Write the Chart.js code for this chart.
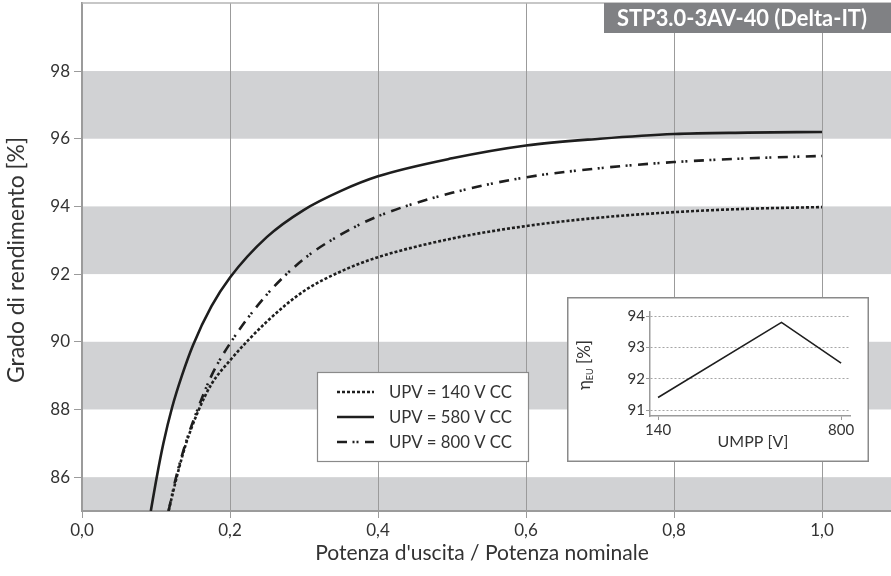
<!DOCTYPE html>
<html>
<head>
<meta charset="utf-8">
<script src="https://cdn.jsdelivr.net/npm/chart.js@4.4.1/dist/chart.umd.min.js"></script>
<style>
  body { margin: 0; background: #fff; }
  #wrap { position: relative; width: 891px; height: 576px; }
  #mainChart { position: absolute; left: 0; top: 0; }
  #insetChart { position: absolute; left: 567px; top: 297px; }
</style>
</head>
<body>
<div id="wrap">
  <canvas id="mainChart" width="891" height="576"></canvas>
  <canvas id="insetChart" width="302" height="165"></canvas>
</div>
<script>
// main chart data
const ratio140 = [0.117, 0.128, 0.14, 0.157, 0.175, 0.2, 0.25, 0.3, 0.35, 0.4, 0.5, 0.6, 0.7, 0.8, 0.9, 1.0];
const eff140 = [85, 86, 86.95, 87.95, 88.75, 89.45, 90.6, 91.5, 92.08, 92.5, 93.05, 93.42, 93.67, 93.83, 93.93, 93.98];
const ratio580 = [0.093, 0.101, 0.11, 0.122, 0.135, 0.15, 0.175, 0.2, 0.25, 0.3, 0.35, 0.4, 0.5, 0.6, 0.7, 0.8, 0.9, 1.0];
const eff580 = [85, 86, 87, 88.08, 89.0, 89.9, 91.05, 91.9, 93.1, 93.9, 94.46, 94.89, 95.42, 95.8, 96.0, 96.14, 96.18, 96.2];
const ratio800 = [0.117, 0.126, 0.14, 0.157, 0.175, 0.2, 0.25, 0.3, 0.35, 0.4, 0.5, 0.6, 0.7, 0.8, 0.9, 1.0];
const eff800 = [85, 85.9, 87.0, 88.05, 89.0, 89.95, 91.4, 92.45, 93.17, 93.71, 94.4, 94.86, 95.13, 95.31, 95.42, 95.49];
const seriesLabels = ["UPV = 140 V CC", "UPV = 580 V CC", "UPV = 800 V CC"];
const xTicks = [0, 0.2, 0.4, 0.6, 0.8, 1.0];
const yTicks = [86, 88, 90, 92, 94, 96, 98];
const bandRanges = [[84, 86], [88, 90], [92, 94], [96, 98]];

// inset data
const umpp = [140, 585, 800];
const etaEu = [91.4, 93.8, 92.5];
const insetXTicks = [140, 800];
const insetYTicks = [91, 92, 93, 94];

const FONT = "Lato, 'DejaVu Sans', sans-serif";
const TXT = "#333333";
const GRID = "#9b9b9b";

const toPts = (xs, ys) => xs.map((x, i) => ({ x: x, y: ys[i] }));

// pick a font size so that text spans the given width
function fitFont(ctx, text, weight, width) {
    ctx.font = weight + " 20px " + FONT;
    const size = 20 * width / ctx.measureText(text).width;
    return weight + " " + size.toFixed(2) + "px " + FONT;
}

// no extra label padding, so the plot area lands where it should
function noPad(s) {
    s.paddingTop = 0; s.paddingBottom = 0;
    s.paddingLeft = 0; s.paddingRight = 0;
}

const mainDecor = {
    id: "mainDecor",
    beforeDraw(chart) {
        const { ctx, chartArea: a, scales: { y } } = chart;
        ctx.save();
        ctx.fillStyle = "#d1d2d4";
        bandRanges.forEach(b => {
            const y1 = Math.max(y.getPixelForValue(b[1]), a.top);
            const y2 = Math.min(y.getPixelForValue(b[0]), a.bottom);
            ctx.fillRect(a.left, y1, a.right - a.left, y2 - y1);
        });
        ctx.restore();
    },
    afterDraw(chart) {
        const { ctx, chartArea: a } = chart;
        ctx.save();
        // top border
        ctx.strokeStyle = "#b5b5b5";
        ctx.lineWidth = 1.5;
        ctx.beginPath();
        ctx.moveTo(a.left, a.top);
        ctx.lineTo(a.right, a.top);
        ctx.stroke();

        // title box
        const title = "STP3.0-3AV-40 (Delta-IT)";
        ctx.font = fitFont(ctx, title, "bold", 250);
        ctx.fillStyle = "#808184";
        ctx.fillRect(604, 3, 891 - 604, 30);
        ctx.fillStyle = "#fff";
        ctx.textAlign = "left";
        ctx.textBaseline = "middle";
        ctx.fillText(title, 617, 18.5);

        // axis titles
        ctx.fillStyle = TXT;
        ctx.textAlign = "center";
        const xTitle = "Potenza d'uscita / Potenza nominale";
        ctx.font = fitFont(ctx, xTitle, "normal", 334);
        ctx.fillText(xTitle, 482, 553);
        const yTitle = "Grado di rendimento [%]";
        ctx.font = fitFont(ctx, yTitle, "normal", 246);
        ctx.save();
        ctx.translate(17, 260);
        ctx.rotate(-Math.PI / 2);
        ctx.fillText(yTitle, 0, 0);
        ctx.restore();

        // legend
        ctx.fillStyle = "#fff";
        ctx.fillRect(317, 372, 211, 89);
        ctx.strokeStyle = "#8a8a8a";
        ctx.lineWidth = 1.2;
        ctx.strokeRect(317.5, 372.5, 211, 89);
        const rows = [392, 417, 442];
        const legendFont = fitFont(ctx, seriesLabels[0], "normal", 123);
        chart.data.datasets.forEach((ds, i) => {
            ctx.save();
            ctx.strokeStyle = ds.borderColor;
            ctx.lineWidth = ds.borderWidth;
            ctx.setLineDash(ds.borderDash || []);
            ctx.beginPath();
            ctx.moveTo(337, rows[i]);
            ctx.lineTo(374, rows[i]);
            ctx.stroke();
            ctx.restore();
            ctx.fillStyle = TXT;
            ctx.font = legendFont;
            ctx.textAlign = "left";
            ctx.textBaseline = "middle";
            ctx.fillText(ds.label, 389, rows[i] + 1);
        });
        ctx.restore();
    }
};

new Chart(document.getElementById("mainChart").getContext("2d"), {
    type: "line",
    data: {
        datasets: [
            {
                label: seriesLabels[0],
                data: toPts(ratio140, eff140),
                borderColor: "#1e1e1e",
                borderWidth: 2.6,
                borderDash: [3, 2],
                pointRadius: 0,
                cubicInterpolationMode: "monotone"
            },
            {
                label: seriesLabels[1],
                data: toPts(ratio580, eff580),
                borderColor: "#1e1e1e",
                borderWidth: 2.6,
                pointRadius: 0,
                cubicInterpolationMode: "monotone"
            },
            {
                label: seriesLabels[2],
                data: toPts(ratio800, eff800),
                borderColor: "#1e1e1e",
                borderWidth: 2.6,
                borderDash: [10, 5.5, 2, 2, 2, 6.5],
                pointRadius: 0,
                cubicInterpolationMode: "monotone"
            }
        ]
    },
    options: {
        responsive: false,
        animation: false,
        layout: { padding: { top: 3, right: 0, left: 0, bottom: 0 } },
        plugins: { legend: { display: false }, tooltip: { enabled: false } },
        scales: {
            x: {
                type: "linear",
                min: 0,
                max: 1.0932,
                afterBuildTicks: s => { s.ticks = xTicks.map(v => ({ value: v })); },
                afterFit: s => { s.height = 65; noPad(s); },
                grid: { color: GRID, lineWidth: 1, tickLength: 7, tickColor: GRID },
                border: { color: GRID, width: 2 },
                ticks: {
                    color: TXT,
                    font: { family: FONT, size: 17 },
                    padding: 2,
                    maxRotation: 0,
                    callback: v => v.toFixed(1).replace(".", ",")
                }
            },
            y: {
                min: 85,
                max: 100.01,
                afterBuildTicks: s => { s.ticks = yTicks.map(v => ({ value: v })); },
                afterFit: s => { s.width = 82; noPad(s); },
                grid: { drawOnChartArea: false, tickLength: 8, tickColor: GRID },
                border: { color: GRID, width: 2 },
                ticks: {
                    color: TXT,
                    font: { family: FONT, size: 17 },
                    padding: 4,
                    callback: v => String(v)
                }
            }
        }
    },
    plugins: [mainDecor]
});

const insetDecor = {
    id: "insetDecor",
    beforeDraw(chart) {
        const { ctx, width, height } = chart;
        ctx.save();
        ctx.fillStyle = "#fff";
        ctx.fillRect(0, 0, width, height);
        ctx.restore();
    },
    afterDraw(chart) {
        const { ctx, width, height, chartArea: a } = chart;
        ctx.save();
        ctx.strokeStyle = "#8a8a8a";
        ctx.lineWidth = 1.5;
        ctx.strokeRect(0.75, 0.75, width - 1.5, height - 1.5);

        ctx.fillStyle = TXT;
        ctx.textBaseline = "middle";
        ctx.textAlign = "center";
        ctx.font = "16px " + FONT;
        ctx.fillText("UMPP [V]", (a.left + a.right) / 2 + 3, 145);

        // rotated eta_EU [%]
        ctx.translate(18, 68);
        ctx.rotate(-Math.PI / 2);
        ctx.textAlign = "left";
        const big = "17px " + FONT, small = "9px " + FONT;
        ctx.font = big; const w1 = ctx.measureText("η").width;
        ctx.font = small; const w2 = ctx.measureText("EU").width;
        ctx.font = big; const w3 = ctx.measureText(" [%]").width;
        let px = -(w1 + w2 + w3) / 2;
        ctx.font = big; ctx.fillText("η", px, 0); px += w1;
        ctx.font = small; ctx.fillText("EU", px, 5); px += w2;
        ctx.font = big; ctx.fillText(" [%]", px, 0);
        ctx.restore();
    }
};

new Chart(document.getElementById("insetChart").getContext("2d"), {
    type: "line",
    data: {
        datasets: [{
            data: toPts(umpp, etaEu),
            borderColor: "#1e1e1e",
            borderWidth: 1.6,
            pointRadius: 0,
            tension: 0
        }]
    },
    options: {
        responsive: false,
        animation: false,
        layout: { padding: { top: 15, right: 19, left: 0, bottom: 0 } },
        plugins: { legend: { display: false }, tooltip: { enabled: false } },
        scales: {
            x: {
                type: "linear",
                min: 111,
                max: 832,
                afterBuildTicks: s => { s.ticks = insetXTicks.map(v => ({ value: v })); },
                afterFit: s => { s.height = 46; noPad(s); },
                grid: { drawOnChartArea: false, tickLength: 4, tickColor: GRID },
                border: { color: GRID, width: 1.5 },
                ticks: {
                    color: TXT,
                    font: { family: FONT, size: 15 },
                    padding: 1,
                    maxRotation: 0,
                    callback: v => String(v)
                }
            },
            y: {
                min: 90.81,
                max: 94.13,
                afterBuildTicks: s => { s.ticks = insetYTicks.map(v => ({ value: v })); },
                afterFit: s => { s.width = 83; noPad(s); },
                grid: { color: "#a5a5a5", lineWidth: 1, tickLength: 4, tickColor: GRID, tickBorderDash: [] },
                border: { color: GRID, width: 1.5, dash: [2, 2] },
                ticks: {
                    color: TXT,
                    font: { family: FONT, size: 15 },
                    padding: 1,
                    callback: v => String(v)
                }
            }
        }
    },
    plugins: [insetDecor]
});
</script>
</body>
</html>
